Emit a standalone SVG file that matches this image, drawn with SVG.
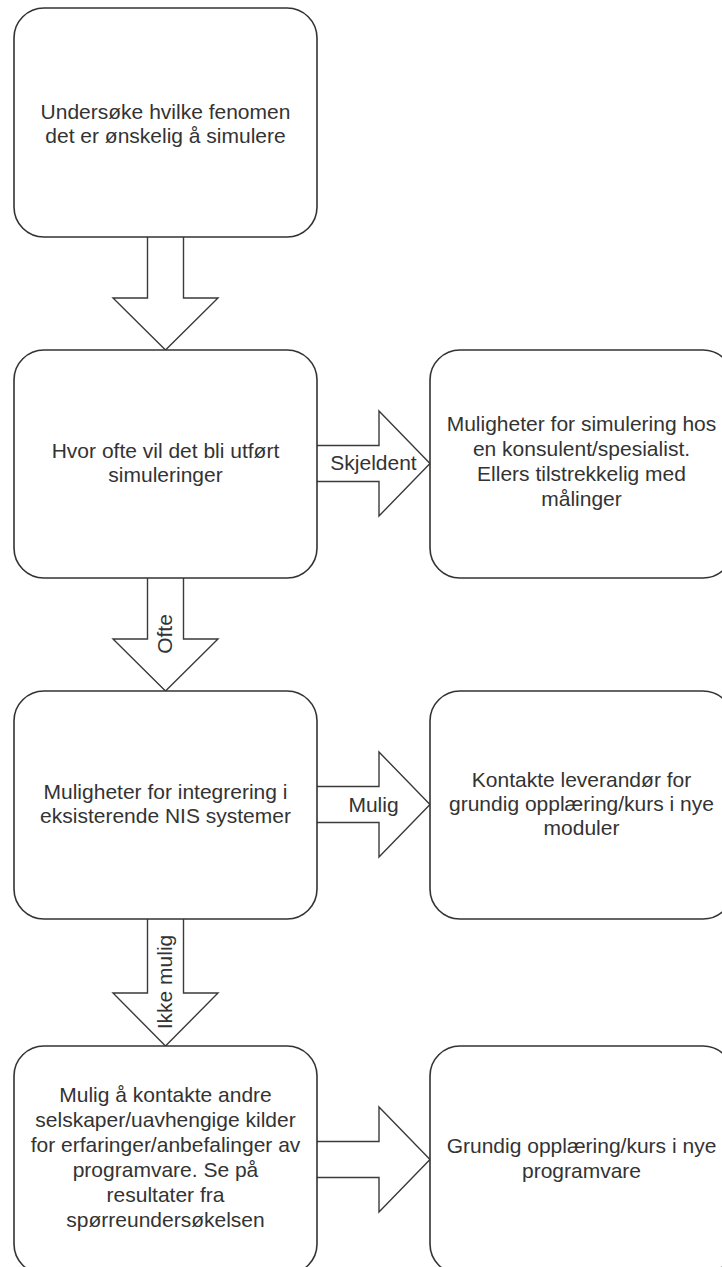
<svg xmlns="http://www.w3.org/2000/svg" width="722" height="1267" viewBox="0 0 722 1267">
  <style>
    .box { fill: #ffffff; stroke: #333333; stroke-width: 1.6; }
    .arrow { fill: #ffffff; stroke: #3a3a3a; stroke-width: 1.4; stroke-linejoin: miter; }
    text { font-family: "Liberation Sans", Arial, sans-serif; font-size: 21px; fill: #333333; text-anchor: middle; }
  </style>
  <rect width="722" height="1267" fill="#ffffff"/>

  <!-- Block-arrow connectors -->
  <g id="connectors">
    <path class="arrow" d="M147.5,237 V298 H113 L165.5,350 L218,298 H183.5 V237"/>
    <path class="arrow" d="M317,445.5 H379 V411 L430,463.5 L379,516 V481.5 H317"/>
    <text x="373.5" y="470">Skjeldent</text>
    <path class="arrow" d="M147.5,577 V639 H113 L165.5,691 L218,639 H183.5 V577"/>
    <text transform="translate(172,634) rotate(-90)">Ofte</text>
    <path class="arrow" d="M317,786.5 H379 V752 L430,804.5 L379,857 V822.5 H317"/>
    <text x="373.5" y="812">Mulig</text>
    <path class="arrow" d="M147.5,918 V993 H113 L165.5,1046 L218,993 H183.5 V918"/>
    <text transform="translate(172,982) rotate(-90)">Ikke mulig</text>
    <path class="arrow" d="M317,1141.5 H379 V1107 L430,1159.5 L379,1212 V1177.5 H317"/>
  </g>

  <g id="n1">
    <rect class="box" x="14" y="8" width="303" height="229" rx="30" ry="30"/>
    <text x="165.5" y="119">Undersøke hvilke fenomen</text>
    <text x="165.5" y="143">det er ønskelig å simulere</text>
  </g>

  <g id="n2">
    <rect class="box" x="14" y="350" width="303" height="228" rx="30" ry="30"/>
    <text x="165.5" y="458">Hvor ofte vil det bli utført</text>
    <text x="165.5" y="482">simuleringer</text>
  </g>

  <g id="n3">
    <rect class="box" x="430" y="350" width="303" height="228" rx="30" ry="30"/>
    <text x="581.5" y="431">Muligheter for simulering hos</text>
    <text x="581.5" y="456">en konsulent/spesialist.</text>
    <text x="581.5" y="481">Ellers tilstrekkelig med</text>
    <text x="581.5" y="506">målinger</text>
  </g>

  <g id="n4">
    <rect class="box" x="14" y="691" width="303" height="228" rx="30" ry="30"/>
    <text x="165.5" y="799">Muligheter for integrering i</text>
    <text x="165.5" y="823">eksisterende NIS systemer</text>
  </g>

  <g id="n5">
    <rect class="box" x="430" y="691" width="303" height="228" rx="30" ry="30"/>
    <text x="581.5" y="787">Kontakte leverandør for</text>
    <text x="581.5" y="811">grundig opplæring/kurs i nye</text>
    <text x="581.5" y="835">moduler</text>
  </g>

  <g id="n6">
    <rect class="box" x="14" y="1046" width="303" height="228" rx="30" ry="30"/>
    <text x="165.5" y="1102">Mulig å kontakte andre</text>
    <text x="165.5" y="1127">selskaper/uavhengige kilder</text>
    <text x="165.5" y="1152">for erfaringer/anbefalinger av</text>
    <text x="165.5" y="1177">programvare. Se på</text>
    <text x="165.5" y="1202">resultater fra</text>
    <text x="165.5" y="1227">spørreundersøkelsen</text>
  </g>

  <g id="n7">
    <rect class="box" x="430" y="1046" width="303" height="228" rx="30" ry="30"/>
    <text x="581.5" y="1153">Grundig opplæring/kurs i nye</text>
    <text x="581.5" y="1178">programvare</text>
  </g>
</svg>
